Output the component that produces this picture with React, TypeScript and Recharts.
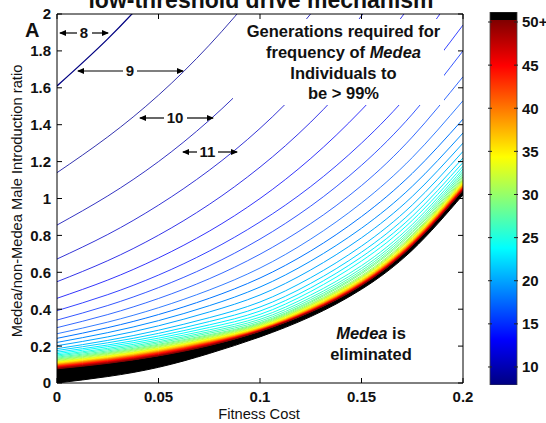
import { ComposedChart, Line, Area, XAxis, YAxis, BarChart, Bar } from 'recharts'

const FONT = '"Liberation Sans", Arial, Helvetica, sans-serif'

const FITNESS_COST = [0, 0.025, 0.05, 0.075, 0.1, 0.125, 0.15, 0.175, 0.2]
const X_TICKS = [0, 0.05, 0.1, 0.15, 0.2]
const Y_TICKS = [0, 0.2, 0.4, 0.6, 0.8, 1, 1.2, 1.4, 1.6, 1.8, 2]
const BAR_TICKS = [10, 15, 20, 25, 30, 35, 40, 45, 50]

// generations needed (contour levels)
const GENERATIONS = [
  8, 9, 10, 11, 12, 13, 14, 15, 16, 17, 18, 19, 20, 21, 22, 23, 24, 25, 26, 27, 28, 29,
  30, 31, 32, 33, 34, 35, 36, 37, 38, 39, 40, 41, 42, 43, 44, 45, 46, 47, 48, 49, 50,
]

// introduction ratio of each contour at FITNESS_COST (same order as GENERATIONS)
const RATIO_BY_LEVEL = [
  [1.61, 1.865, 2.16, 2.498, 2.89, 3.35, 3.88, 4.49, 5.2],
  [1.14, 1.334, 1.56, 1.831, 2.15, 2.514, 2.94, 3.447, 4.04],
  [0.856, 1.014, 1.2, 1.424, 1.69, 2.001, 2.37, 2.814, 3.34],
  [0.672, 0.805, 0.964, 1.153, 1.38, 1.657, 1.99, 2.382, 2.85],
  [0.549, 0.663, 0.801, 0.968, 1.17, 1.414, 1.71, 2.063, 2.49],
  [0.459, 0.558, 0.678, 0.823, 1.0, 1.217, 1.48, 1.796, 2.18],
  [0.392, 0.479, 0.585, 0.715, 0.873, 1.065, 1.3, 1.588, 1.94],
  [0.341, 0.42, 0.517, 0.635, 0.78, 0.959, 1.18, 1.457, 1.8],
  [0.3, 0.371, 0.458, 0.565, 0.698, 0.864, 1.07, 1.333, 1.66],
  [0.267, 0.33, 0.408, 0.504, 0.623, 0.78, 0.976, 1.222, 1.53],
  [0.242, 0.3, 0.371, 0.459, 0.569, 0.716, 0.902, 1.136, 1.43],
  [0.22, 0.273, 0.338, 0.419, 0.52, 0.661, 0.839, 1.066, 1.355],
  [0.202, 0.25, 0.31, 0.385, 0.477, 0.613, 0.787, 1.011, 1.3],
  [0.186, 0.231, 0.286, 0.354, 0.439, 0.571, 0.742, 0.965, 1.255],
  [0.176, 0.218, 0.269, 0.333, 0.412, 0.54, 0.709, 0.93, 1.22],
  [0.167, 0.206, 0.255, 0.315, 0.39, 0.516, 0.683, 0.903, 1.195],
  [0.159, 0.197, 0.243, 0.301, 0.372, 0.496, 0.661, 0.881, 1.175],
  [0.152, 0.188, 0.233, 0.288, 0.357, 0.477, 0.636, 0.859, 1.16],
  [0.146, 0.181, 0.224, 0.278, 0.345, 0.463, 0.621, 0.844, 1.147],
  [0.14, 0.174, 0.217, 0.27, 0.335, 0.452, 0.609, 0.832, 1.136],
  [0.135, 0.168, 0.21, 0.262, 0.327, 0.443, 0.599, 0.821, 1.126],
  [0.13, 0.163, 0.205, 0.257, 0.322, 0.437, 0.592, 0.813, 1.117],
  [0.126, 0.159, 0.2, 0.252, 0.318, 0.43, 0.582, 0.803, 1.109],
  [0.122, 0.155, 0.196, 0.248, 0.314, 0.425, 0.576, 0.797, 1.102],
  [0.118, 0.15, 0.191, 0.243, 0.31, 0.421, 0.571, 0.791, 1.096],
  [0.115, 0.147, 0.188, 0.24, 0.307, 0.417, 0.567, 0.787, 1.091],
  [0.112, 0.144, 0.184, 0.236, 0.3035, 0.413, 0.562, 0.781, 1.086],
  [0.109, 0.14, 0.181, 0.233, 0.3, 0.409, 0.558, 0.777, 1.082],
  [0.106, 0.137, 0.178, 0.23, 0.298, 0.407, 0.555, 0.773, 1.078],
  [0.103, 0.134, 0.175, 0.228, 0.296, 0.404, 0.552, 0.77, 1.075],
  [0.101, 0.132, 0.172, 0.225, 0.294, 0.402, 0.549, 0.767, 1.072],
  [0.099, 0.13, 0.17, 0.223, 0.2925, 0.4, 0.547, 0.765, 1.069],
  [0.097, 0.128, 0.168, 0.221, 0.291, 0.398, 0.545, 0.762, 1.066],
  [0.095, 0.126, 0.166, 0.219, 0.2898, 0.397, 0.543, 0.76, 1.063],
  [0.093, 0.1235, 0.164, 0.2176, 0.2886, 0.395, 0.541, 0.758, 1.061],
  [0.091, 0.1214, 0.162, 0.2158, 0.2874, 0.394, 0.54, 0.756, 1.059],
  [0.089, 0.1193, 0.16, 0.214, 0.2862, 0.392, 0.538, 0.754, 1.057],
  [0.087, 0.1169, 0.157, 0.2115, 0.285, 0.391, 0.536, 0.752, 1.055],
  [0.085, 0.1148, 0.155, 0.2098, 0.284, 0.39, 0.535, 0.751, 1.053],
  [0.083, 0.1127, 0.153, 0.2081, 0.283, 0.388, 0.533, 0.748, 1.051],
  [0.081, 0.1106, 0.151, 0.2064, 0.282, 0.387, 0.532, 0.747, 1.049],
  [0.079, 0.1085, 0.149, 0.2046, 0.281, 0.386, 0.53, 0.745, 1.047],
  [0.077, 0.1064, 0.147, 0.2029, 0.28, 0.385, 0.529, 0.744, 1.045],
]

// lower edge of the black 50+ band (below it Medea is eliminated)
const BAND_LOWER = [0, 0.035, 0.085, 0.16, 0.25, 0.36, 0.508, 0.72, 1.02]

// colorbar range
const CB_MIN = 7.91
const CB_TOP = 50.23 // where the black 50+ cap starts
const CB_MAX = 51.16

const jet = (v: number) => {
  const t = Math.min(1, Math.max(0, (v - CB_MIN) / (CB_TOP - CB_MIN)))
  const c = (d: number) => Math.round(255 * Math.min(1, Math.max(0, 1.5 - Math.abs(4 * t - d))))
  return `rgb(${c(3)},${c(2)},${c(1)})`
}

const rows = FITNESS_COST.map((x, i) => {
  const row: Record<string, any> = { x, band: [BAND_LOWER[i], RATIO_BY_LEVEL[RATIO_BY_LEVEL.length - 1][i]] }
  GENERATIONS.forEach((g, k) => {
    row[`g${g}`] = RATIO_BY_LEVEL[k][i]
  })
  return row
})

const TICK = 5
const tickText = { fontFamily: FONT, fontSize: 15, fontWeight: 'bold' as const, fill: '#111' }

function BottomTick(p: any) {
  const base = p.y - 8
  return (
    <g>
      <line x1={p.x} x2={p.x} y1={base} y2={base - TICK} stroke="#000" />
      <text x={p.x} y={p.y} dy="0.72em" textAnchor="middle" {...tickText}>
        {String(p.payload.value)}
      </text>
    </g>
  )
}

function TopTick(p: any) {
  return <line x1={p.x} x2={p.x} y1={p.y} y2={p.y + TICK} stroke="#000" />
}

function LeftTick(p: any) {
  const base = p.x + 6
  return (
    <g>
      <line x1={base} x2={base + TICK} y1={p.y} y2={p.y} stroke="#000" />
      <text x={p.x} y={p.y} dy="0.36em" textAnchor="end" {...tickText}>
        {String(p.payload.value)}
      </text>
    </g>
  )
}

function RightTick(p: any) {
  return <line x1={p.x} x2={p.x - TICK} y1={p.y} y2={p.y} stroke="#000" />
}

function ColorbarTick(p: any) {
  const edge = p.x - 4
  const v = p.payload.value
  return (
    <g>
      <line x1={edge} x2={edge - 4} y1={p.y} y2={p.y} stroke="#222" />
      <line x1={edge - 30} x2={edge - 26} y1={p.y} y2={p.y} stroke="#222" />
      <text x={p.x} y={p.y} dy="0.36em" textAnchor="start" {...tickText}>
        {v === 50 ? '50+' : String(v)}
      </text>
    </g>
  )
}

function Arrow({ from, to, y }: { from: number; to: number; y: number }) {
  return <line x1={from} x2={to} y1={y} y2={y} stroke="#000" strokeWidth={1.2} markerEnd="url(#head)" />
}

function ContourLabel({ text, x, y, l0, l1, r0, r1 }: any) {
  return (
    <g>
      <Arrow from={l1} to={l0} y={y} />
      <Arrow from={r0} to={r1} y={y} />
      <text x={x} y={y + 5} textAnchor="middle" {...tickText}>
        {text}
      </text>
    </g>
  )
}

const JET_STOPS = [0, 0.125, 0.375, 0.625, 0.875, 1]
const JET_FRAC = (CB_TOP - CB_MIN) / (CB_MAX - CB_MIN)

export default function App() {
  const big = { fontFamily: FONT, fontWeight: 'bold' as const, fill: '#111' }
  return (
    <div style={{ position: 'absolute', left: 0, top: 0, width: 546, height: 423, background: '#fff' }}>
      <div style={{ position: 'absolute', left: 0, top: 0 }}>
        <ComposedChart width={480} height={423} data={rows} margin={{ top: 13, right: 16, bottom: 10, left: 17 }}>
          <XAxis
            xAxisId="b"
            type="number"
            dataKey="x"
            domain={[0, 0.2]}
            ticks={X_TICKS}
            interval={0}
            allowDataOverflow
            height={30}
            tickLine={false}
            tickSize={0}
            tickMargin={8}
            tick={(p: any) => <BottomTick {...p} />}
            stroke="#000"
          />
          <XAxis
            xAxisId="t"
            orientation="top"
            type="number"
            dataKey="x"
            domain={[0, 0.2]}
            ticks={X_TICKS}
            interval={0}
            allowDataOverflow
            height={1}
            tickLine={false}
            tickSize={0}
            tickMargin={0}
            tick={(p: any) => <TopTick {...p} />}
            stroke="#000"
          />
          <YAxis
            yAxisId="l"
            type="number"
            domain={[0, 2]}
            ticks={Y_TICKS}
            interval={0}
            allowDataOverflow
            width={40}
            tickLine={false}
            tickSize={0}
            tickMargin={6}
            tick={(p: any) => <LeftTick {...p} />}
            stroke="#000"
          />
          <YAxis
            yAxisId="r"
            orientation="right"
            type="number"
            domain={[0, 2]}
            ticks={Y_TICKS}
            interval={0}
            allowDataOverflow
            width={1}
            tickLine={false}
            tickSize={0}
            tickMargin={0}
            tick={(p: any) => <RightTick {...p} />}
            stroke="#000"
          />
          <Area
            xAxisId="b"
            yAxisId="l"
            dataKey="band"
            type="natural"
            fill="#000"
            fillOpacity={1}
            stroke="#000"
            strokeWidth={1}
            isAnimationActive={false}
          />
          {GENERATIONS.map((g) => (
            <Line
              key={g}
              xAxisId="b"
              yAxisId="l"
              dataKey={`g${g}`}
              type="natural"
              stroke={jet(g)}
              strokeWidth={g === 8 ? 1.3 : g < 18 ? 0.8 : 1}
              dot={false}
              isAnimationActive={false}
            />
          ))}
        </ComposedChart>
      </div>

      <div style={{ position: 'absolute', left: 488, top: 0 }}>
        <BarChart
          width={58}
          height={423}
          data={[{ name: 'cb', span: [CB_MIN, CB_MAX] }]}
          margin={{ top: 12, right: 0, bottom: 38, left: 0 }}
          barCategoryGap={0}
        >
          <defs>
            <linearGradient id="jetGrad" x1="0" y1="1" x2="0" y2="0">
              {JET_STOPS.map((t) => (
                <stop key={t} offset={t * JET_FRAC} stopColor={jet(CB_MIN + t * (CB_TOP - CB_MIN))} />
              ))}
              <stop offset={JET_FRAC} stopColor="#000" />
              <stop offset={1} stopColor="#000" />
            </linearGradient>
          </defs>
          <XAxis dataKey="name" hide />
          <YAxis
            orientation="right"
            type="number"
            width={28}
            domain={[CB_MIN, CB_MAX]}
            ticks={BAR_TICKS}
            interval={0}
            allowDataOverflow
            axisLine={false}
            tickLine={false}
            tickSize={0}
            tickMargin={4}
            tick={(p: any) => <ColorbarTick {...p} />}
          />
          <Bar dataKey="span" fill="url(#jetGrad)" stroke="#444" strokeWidth={0.8} barSize={30} isAnimationActive={false} />
        </BarChart>
      </div>

      <svg width={546} height={423} style={{ position: 'absolute', left: 0, top: 0, pointerEvents: 'none' }}>
        <defs>
          <marker id="head" markerUnits="userSpaceOnUse" markerWidth={7} markerHeight={6} refX={6} refY={3} orient="auto">
            <path d="M0,0 L7,3 L0,6 z" fill="#000" />
          </marker>
        </defs>
        <rect x={233} y={19} width={211} height={86} fill="#fff" />
        <text x={261} y={8} textAnchor="middle" fontSize={23} {...big}>
          low-threshold drive mechanism
        </text>
        <text x={25} y={37} fontSize={20} {...big}>
          A
        </text>
        <text x={343.5} y={37} textAnchor="middle" fontSize={16.5} {...big}>
          Generations required for
        </text>
        <text x={343.5} y={58} textAnchor="middle" fontSize={16.5} {...big}>
          frequency of <tspan fontStyle="italic">Medea</tspan>
        </text>
        <text x={343.5} y={78.5} textAnchor="middle" fontSize={16.5} {...big}>
          Individuals to
        </text>
        <text x={343.5} y={99} textAnchor="middle" fontSize={16.5} {...big}>
          {'be > 99%'}
        </text>
        <text x={371} y={339} textAnchor="middle" fontSize={16.5} {...big}>
          <tspan fontStyle="italic">Medea</tspan> is
        </text>
        <text x={371} y={360} textAnchor="middle" fontSize={16.5} {...big}>
          eliminated
        </text>
        <ContourLabel text="8" x={84} y={33} l0={60} l1={77} r0={92} r1={108} />
        <ContourLabel text="9" x={130} y={71} l0={78} l1={123} r0={137} r1={183} />
        <ContourLabel text="10" x={175} y={118} l0={140} l1={164} r0={187} r1={213} />
        <ContourLabel text="11" x={207.5} y={152} l0={183} l1={197} r0={218} r1={237} />
        <text x={259} y={418.5} textAnchor="middle" fontFamily={FONT} fontSize={14.7} fill="#111">
          Fitness Cost
        </text>
        <text
          transform="translate(17,201) rotate(-90)"
          textAnchor="middle"
          dominantBaseline="central"
          fontFamily={FONT}
          fontSize={14.7}
          fill="#111"
        >
          Medea/non-Medea Male Introduction ratio
        </text>
      </svg>
    </div>
  )
}
